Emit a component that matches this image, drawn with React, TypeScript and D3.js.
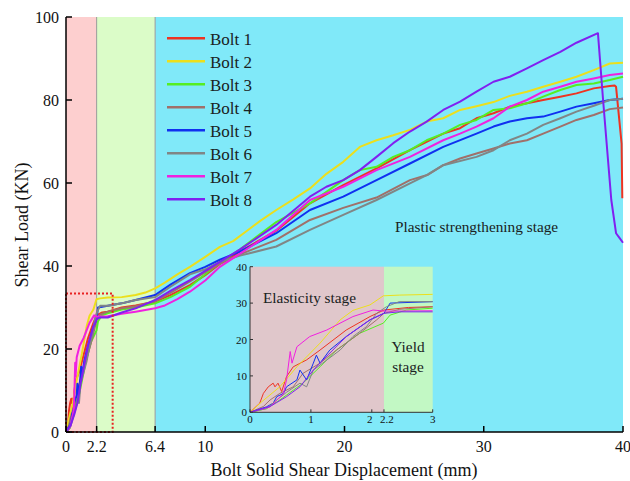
import React from "react";
import * as d3 from "d3";

type P = [number, number];

const bolt1: P[] = [[0,0],[0.16,2.5],[0.22,5.2],[0.3,7],[0.38,8],[0.41,7],[0.46,8],[0.52,5.7],[0.6,9.8],[0.71,12.5],[0.93,14.4],[1.15,17.1],[1.58,22.6],[1.97,26.3],[2.2,28.1],[2.6,28.8],[3,29],[4,30],[5,30.5],[6.4,31.4],[7.5,33],[8.9,35.4],[10,37.8],[11.05,40.5],[12.5,43.5],[15.1,48.5],[17.52,55.1],[19.91,59.5],[22.3,63.5],[24.7,67.9],[27.09,71.9],[28.3,73.2],[29.48,75.6],[30.7,76.8],[31.87,78.4],[33.1,79.2],[34.27,80],[35.5,80.8],[36.66,81.6],[37.9,82.8],[39.05,83.4],[39.4,83.5],[39.5,83.2],[39.9,69.5],[39.95,56.3]];
const bolt2: P[] = [[0,0],[0.1,1.5],[0.2,3],[0.49,7],[0.77,12.5],[1.15,19],[1.48,25.4],[1.69,28],[1.97,29.5],[2.19,32],[2.46,32.2],[3,32.4],[4,32.5],[5,33],[5.7,33.6],[6.4,34.6],[7.1,36],[8,38],[8.9,39.8],[10,42.2],[11.05,44.6],[12,46],[13,48.5],[14,51],[15.1,53.5],[16.3,56],[17.52,58.7],[18.7,62.2],[19.91,65.1],[21.1,68.7],[22.3,70.3],[23.5,71.5],[24.7,72.8],[25.9,74.8],[27.09,75.6],[28.3,77.6],[29.48,78.5],[30.7,79.5],[31.87,81],[33.1,82],[34.27,83.2],[35.5,84.4],[36.66,85.6],[37.9,87.2],[39.05,88.8],[40,89]];
const bolt3: P[] = [[0,0],[0.27,1],[0.49,3.4],[0.87,8],[1.15,12.5],[1.42,17.1],[1.8,21.7],[2.19,24.5],[2.3,26.7],[2.57,28.1],[3,28.6],[4,29.5],[5,30],[6.4,31],[7.5,32.5],[8.9,35],[10,38],[11.05,40.8],[12.5,44],[15.1,50.6],[17.52,55.1],[19.91,60.7],[21.1,63.1],[22.3,63.9],[23.5,66.3],[24.7,67.9],[25.9,70.3],[27.09,71.9],[28.3,74],[29.48,75.2],[30.7,77.6],[31.87,78],[33.1,79.2],[34.27,80.8],[35.5,82.4],[36.66,83.6],[37.9,84],[39.05,84.8],[40,85.6]];
const bolt4: P[] = [[0,0],[0.22,1.6],[0.33,3.4],[0.49,5.2],[0.71,7],[0.87,10.7],[1.15,13.5],[1.42,17.1],[1.8,21.7],[2.08,25.4],[2.2,27.2],[2.46,28.3],[3,29],[4,29.8],[5,30.3],[6.4,31.5],[7.5,33.5],[8.9,36.3],[10,38.5],[11.05,40.5],[12.5,42.8],[15.1,46.3],[17.52,51.1],[19.91,54],[22.3,56.5],[24.7,60.7],[26,62],[27.09,64.3],[28.3,65.9],[29.48,67.1],[30.7,68.3],[31.87,69.5],[33.1,70.3],[34.27,71.9],[35.5,73.6],[36.66,75.2],[37.9,76.4],[39.05,77.8],[40,78.2]];
const bolt5: P[] = [[0,0],[0.27,1.5],[0.38,2.5],[0.44,4.3],[0.55,5.2],[0.6,7],[0.77,8.9],[0.82,11.6],[0.93,8.9],[1.04,13.5],[1.09,15.7],[1.15,13.5],[1.31,17.1],[1.58,20.8],[1.97,25.4],[2.2,27.2],[2.3,30],[3,30.4],[4,31],[5,31.8],[6.4,33],[7.5,35.5],[8.9,38.3],[10,39.8],[11.05,41.5],[12.5,43.5],[15.1,47.9],[17.52,53.5],[19.91,56.7],[22.3,60.7],[24.7,64.7],[27.09,68.7],[29.48,71.9],[30.7,73.6],[31.87,74.8],[33.1,75.6],[34.27,76],[35.5,77.2],[36.66,78.4],[37.9,79.2],[39.05,80],[40,80.3]];
const bolt6: P[] = [[0,0],[0.27,1],[0.44,3.4],[0.6,5.5],[0.82,8],[0.93,7],[1.04,11.6],[1.48,17.1],[1.69,20.8],[1.91,23.5],[2.08,27.2],[2.24,29],[2.45,30.4],[3,30.4],[4,31],[5,31.8],[6.4,32.5],[7.5,35],[8.9,38],[10,39.2],[11.05,41],[12.5,42.5],[15.1,44.7],[17.52,48.7],[19.91,52.3],[22.3,55.9],[24.7,59.9],[25.9,61.9],[27.09,64.3],[29.48,66.3],[30.7,67.9],[31.87,70.3],[33.1,71.9],[34.27,74],[35.5,75.6],[36.66,77.2],[37.9,78.6],[39.05,80],[40,80.3]];
const bolt7: P[] = [[0,0],[0.33,1.5],[0.45,3.5],[0.55,5.2],[0.6,8.9],[0.66,16.7],[0.69,13.5],[0.77,18],[0.98,20.8],[1.26,22.6],[1.69,26.3],[2.02,28.1],[2.2,27.8],[3,27.9],[4,28.5],[5,29],[6.4,29.8],[7.1,30.5],[8,32],[8.9,33.8],[10,36.5],[11.05,39.8],[12.5,43],[15.1,48.7],[17.52,55.9],[19.91,59.1],[22.3,63.1],[24.7,66.3],[27.09,70.3],[28.3,71.9],[29.48,73.6],[30.7,75.6],[31.87,78.4],[33.1,80],[34.27,82],[35.5,83.2],[36.66,84.4],[37.9,85.2],[39.05,86],[40,86.4]];
const bolt8: P[] = [[0,0],[0.33,1.6],[0.6,4.3],[0.82,7],[1.04,11.6],[1.2,14.4],[1.58,20.8],[1.97,25.4],[2.2,27.2],[2.46,27.6],[3,27.6],[4,28.8],[5,29.8],[6.4,31.8],[7.5,34],[8.9,36.6],[10,38.8],[11.05,41],[12.5,44],[15.1,49.9],[17.52,56.7],[18.7,59.1],[19.91,60.7],[21.1,63.1],[22.3,66.3],[23.5,69.6],[24.7,72.4],[25.9,74.8],[27.09,77.6],[28.3,79.6],[29.48,82],[30.7,84.4],[31.87,85.6],[33.1,87.6],[34.27,89.6],[35.5,91.6],[36.66,93.8],[38.2,96.1],[38.57,80],[39.16,55.9],[39.5,47.9],[39.76,46.7],[40,45.6]];

const boltNames = ["Bolt 1","Bolt 2","Bolt 3","Bolt 4","Bolt 5","Bolt 6","Bolt 7","Bolt 8"];
const boltColors = ["#ee3322","#ecdf1c","#55ee22","#a0706a","#1030f0","#808686","#f020e0","#8020f0"];
const boltData = [bolt1,bolt2,bolt3,bolt4,bolt5,bolt6,bolt7,bolt8];

const xTicks = [0, 2.2, 6.4, 10, 20, 30, 40];
const yTicks = [0, 20, 40, 60, 80, 100];
const insetXTicks = [0, 1, 2, 2.2, 3];
const insetYTicks = [0, 10, 20, 30, 40];
const stageBounds = [0, 2.2, 6.4, 40];
const stageColors = ["#fdcfcf", "#dbfcc8", "#80e9f9"];
const insetStageBounds = [0, 2.2, 3];
const insetStageColors = ["#e0c7cb", "#c2f8c4"];
const zoomBox = { x0: 0, x1: 3.35, y0: 0, y1: 33.4 };

const FONT = "'Liberation Serif', 'Times New Roman', serif";

export default function App() {
  const x = d3.scaleLinear().domain([0, 40]).range([66, 623]);
  const y = d3.scaleLinear().domain([0, 100]).range([432, 17]);
  const ix = d3.scaleLinear().domain([0, 3]).range([250, 432.7]);
  const iy = d3.scaleLinear().domain([0, 40]).range([412.3, 266.7]);

  const line = d3.line<P>().x(d => x(d[0])).y(d => y(d[1]));
  const iline = d3.line<P>().x(d => ix(d[0])).y(d => iy(d[1]));

  return (
    <svg width={630} height={481} style={{ position: "absolute", left: 0, top: 0, background: "#fff" }} fontFamily={FONT}>
      <defs>
        <clipPath id="insetClip">
          <rect x={ix(0)} y={iy(40)} width={ix(3) - ix(0)} height={iy(0) - iy(40)} />
        </clipPath>
      </defs>
      {stageColors.map((c, i) => (
        <rect key={i} x={x(stageBounds[i])} y={y(100)} width={x(stageBounds[i + 1]) - x(stageBounds[i])} height={y(0) - y(100)} fill={c} />
      ))}
      {[2.2, 6.4].map(v => (
        <line key={v} x1={x(v)} x2={x(v)} y1={y(100)} y2={y(0)} stroke="#9a9a9a" strokeWidth={1} />
      ))}
      {boltData.map((d, i) => (
        <path key={i} d={line(d) || ""} fill="none" stroke={boltColors[i]} strokeWidth={2} strokeLinejoin="round" />
      ))}
      <rect x={x(zoomBox.x0)} y={y(zoomBox.y1)} width={x(zoomBox.x1) - x(zoomBox.x0)} height={y(zoomBox.y0) - y(zoomBox.y1)} fill="none" stroke="#e82020" strokeWidth={2} strokeDasharray="2,2" />
      {/* axes */}
      <line x1={x(0)} x2={x(0)} y1={y(100)} y2={y(0)} stroke="#000" strokeWidth={1.5} />
      <line x1={x(0)} x2={x(40)} y1={y(0)} y2={y(0)} stroke="#000" strokeWidth={1.5} />
      {yTicks.map(t => (
        <g key={t}>
          <line x1={x(0)} x2={x(0) + 6} y1={y(t)} y2={y(t)} stroke="#000" strokeWidth={1.5} />
          <text x={x(0) - 7} y={y(t) + 5.5} textAnchor="end" fontSize={16} fill="#111">{t}</text>
        </g>
      ))}
      {xTicks.map(t => (
        <g key={t}>
          <line x1={x(t)} x2={x(t)} y1={y(0)} y2={y(0) - 6} stroke="#000" strokeWidth={1.5} />
          <text x={x(t)} y={452} textAnchor="middle" fontSize={16} fill="#111">{t}</text>
        </g>
      ))}
      <text x={344} y={476} textAnchor="middle" fontSize={18} fill="#111">Bolt Solid Shear Displacement (mm)</text>
      <text transform={`translate(28,225) rotate(-90)`} textAnchor="middle" fontSize={18} fill="#111">Shear Load (KN)</text>
      {/* legend */}
      {boltNames.map((n, i) => (
        <g key={n}>
          <line x1={167} x2={205} y1={38.3 + 23 * i} y2={38.3 + 23 * i} stroke={boltColors[i]} strokeWidth={2.5} />
          <text x={210} y={44.5 + 23 * i} fontSize={17} fill="#1a2222">{n}</text>
        </g>
      ))}
      <text x={395} y={231.5} fontSize={15.3} fill="#1a2222">Plastic strengthening stage</text>
      {/* inset */}
      {insetStageColors.map((c, i) => (
        <rect key={i} x={ix(insetStageBounds[i])} y={iy(40)} width={ix(insetStageBounds[i + 1]) - ix(insetStageBounds[i])} height={iy(0) - iy(40)} fill={c} />
      ))}
      <g clipPath="url(#insetClip)">
        {boltData.map((d, i) => (
          <path key={i} d={iline(d.filter((p, j) => j === 0 || d[j - 1][0] <= 3)) || ""} fill="none" stroke={boltColors[i]} strokeWidth={1} strokeLinejoin="round" />
        ))}
      </g>
      <line x1={ix(0)} x2={ix(0)} y1={iy(40)} y2={iy(0)} stroke="#333" strokeWidth={1} />
      <line x1={ix(0)} x2={ix(3)} y1={iy(0)} y2={iy(0)} stroke="#333" strokeWidth={1} />
      {insetYTicks.map(t => (
        <g key={t}>
          <line x1={ix(0)} x2={ix(0) + 3} y1={iy(t)} y2={iy(t)} stroke="#333" />
          <text x={ix(0) - 3} y={iy(t) + 4} textAnchor="end" fontSize={11} fill="#111">{t}</text>
        </g>
      ))}
      {insetXTicks.map(t => (
        <g key={t}>
          <line x1={ix(t)} x2={ix(t)} y1={iy(0)} y2={iy(0) - 3} stroke="#333" />
          <text x={ix(t) + (t === 2 ? -2 : t === 2.2 ? 3 : 0)} y={423} textAnchor="middle" fontSize={11} fill="#111">{t}</text>
        </g>
      ))}
      <text x={263} y={302.5} fontSize={15.3} fill="#1a2222">Elasticity stage</text>
      <text x={408} y={351.5} textAnchor="middle" fontSize={15.3} fill="#1a2222">Yield</text>
      <text x={408} y={372} textAnchor="middle" fontSize={15.3} fill="#1a2222">stage</text>
    </svg>
  );
}
